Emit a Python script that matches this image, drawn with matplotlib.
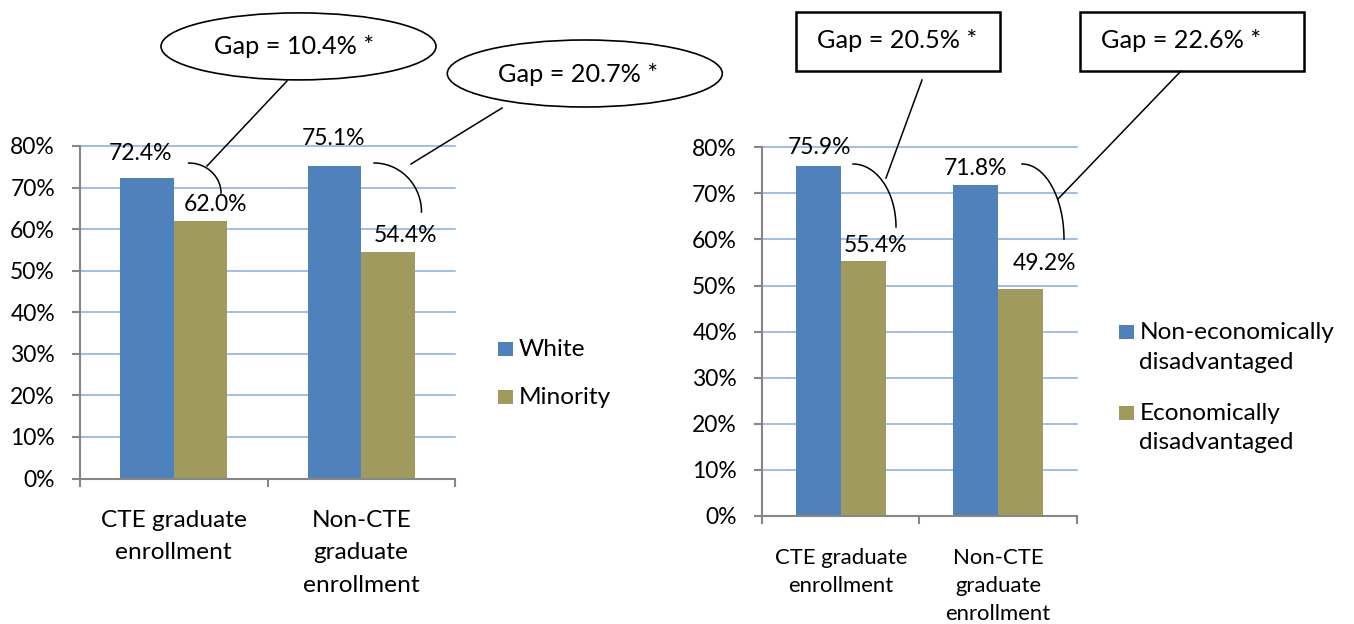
import numpy as np
import matplotlib.pyplot as plt
from matplotlib import patches, transforms

plt.rcParams['font.family'] = ['Lato', 'DejaVu Sans']

W, H = 1354, 624

# data
race_categories = ['CTE graduate\nenrollment', 'Non-CTE\ngraduate\nenrollment']
race_series = ['White', 'Minority']
white = [72.4, 75.1]
minority = [62.0, 54.4]
race_gaps = ['Gap = 10.4% *', 'Gap = 20.7% *']

econ_categories = ['CTE graduate\nenrollment', 'Non-CTE\ngraduate\nenrollment']
econ_series = ['Non-economically\ndisadvantaged', 'Economically\ndisadvantaged']
non_econ = [75.9, 71.8]
econ = [55.4, 49.2]
econ_gaps = ['Gap = 20.5% *', 'Gap = 22.6% *']

yticks = list(range(0, 81, 10))

BLUE = '#4F81BD'
OLIVE = '#A09A5C'
GRID = '#86AEDF'
AXIS = '#868686'
PX = 0.72  # pixels -> points at 100 dpi

fig = plt.figure(figsize=(W / 100, H / 100), dpi=100)
# pixel coordinates measured from the top-left corner
px = transforms.Affine2D().scale(1 / W, -1 / H).translate(0, 1) + fig.transFigure


def bar_panel(box, cats, s1, s2, cat_size, cat_ls, cat_pad, nudges):
    l, t, r, b = box
    ax = fig.add_axes([l / W, 1 - b / H, (r - l) / W, (b - t) / H])
    x = np.arange(len(cats))
    w = 1 / 3.5
    bars1 = ax.bar(x - w / 2, s1, w, color=BLUE, zorder=2)
    bars2 = ax.bar(x + w / 2, s2, w, color=OLIVE, zorder=2)
    ax.set_xlim(-0.5, len(cats) - 0.5)
    ax.set_ylim(0, 80)
    ax.set_yticks(yticks, [f'{v}%' for v in yticks])
    ax.yaxis.grid(True, color=GRID, lw=1.1)
    for g in ax.get_ygridlines():
        g.set_clip_on(False)
    ax.set_axisbelow(True)
    for s in ['top', 'right']:
        ax.spines[s].set_visible(False)
    for s in ['left', 'bottom']:
        ax.spines[s].set_color(AXIS)
        ax.spines[s].set_linewidth(1.5)
        ax.spines[s].set_zorder(3)
    ax.tick_params(axis='y', direction='out', length=8 * PX, width=1.5, color=AXIS,
                   pad=17 * PX, labelsize=16.5)
    ax.set_xticks(x, cats)
    ax.set_xticks(np.arange(len(cats) + 1) - 0.5, minor=True)
    ax.tick_params(axis='x', which='major', length=0, pad=cat_pad, labelsize=cat_size)
    ax.tick_params(axis='x', which='minor', direction='out', length=8 * PX, width=1.5, color=AXIS)
    for lab in ax.get_xticklabels():
        lab.set_linespacing(cat_ls)
    k = 0
    for bars, vals in ((bars1, s1), (bars2, s2)):
        for bar, v in zip(bars, vals):
            dx, dy = nudges[k]
            k += 1
            ax.annotate(f'{v:.1f}%', (bar.get_x() + bar.get_width() / 2, v),
                        xytext=(dx * PX, dy * PX), textcoords='offset points',
                        ha='center', va='center', fontsize=16.5, zorder=4)
    return ax


# left panel
bar_panel((80, 146, 455, 478.5), race_categories, white, minority, 17.6, 1.68, 22.5,
          [(-6, 24), (-1, 28), (15, 16), (17, 17)])
# right panel
bar_panel((762, 147.3, 1077, 516), econ_categories, non_econ, econ, 15.9, 1.5, 23,
          [(1, 19), (0, 17), (12, 15), (24, 26)])


def legend(x, entries):
    for (label, color, ysq, ytxt) in entries:
        fig.add_artist(patches.Rectangle((x, ysq - 7), 15, 14, transform=px,
                                         color=color, lw=0))
        fig.text(x + 21, ytxt, label, transform=px, ha='left', va='center',
                 fontsize=17.6, linespacing=1.5)


legend(498, [(race_series[0], BLUE, 349, 349), (race_series[1], OLIVE, 397, 397)])
legend(1118.5, [(econ_series[0], BLUE, 331.5, 347.5), (econ_series[1], OLIVE, 413, 428)])


def bracket(x0, y0, x1, y1):
    t = np.linspace(0, np.pi / 2, 40)
    xs = x0 + (x1 - x0) * np.sin(t)
    ys = y1 - (y1 - y0) * np.cos(t)
    fig.add_artist(plt.Line2D(xs, ys, transform=px, color='black', lw=1.1))


def pointer(x0, y0, x1, y1):
    fig.add_artist(plt.Line2D([x0, x1], [y0, y1], transform=px, color='black', lw=1.1))


# ellipse callouts (left)
for (cx, cy), (tx, ty), txt in zip([(298.5, 46.4), (584.8, 73.5)],
                                   [(294, 46), (578.5, 74)], race_gaps):
    fig.add_artist(patches.Ellipse((cx, cy), 275, 67, transform=px, fill=False,
                                   ec='black', lw=1.2))
    fig.text(tx, ty, txt, transform=px, ha='center', va='center', fontsize=18.2)
bracket(188.6, 163, 221, 193)
pointer(287, 81, 207, 166)
bracket(374, 163, 421.5, 212)
pointer(502, 108, 411, 164)

# rectangle callouts (right)
for (bx, by, bw, bh), txt in zip([(796, 12.3, 204, 58.4), (1080, 12, 224, 59)], econ_gaps):
    fig.add_artist(patches.Rectangle((bx, by), bw, bh, transform=px, fill=False,
                                     ec='black', lw=1.8))
    fig.text(bx + 21, 41, txt, transform=px, ha='left', va='center', fontsize=18.2)
bracket(853, 164, 896, 227)
pointer(922, 80, 886, 178)
bracket(1022, 164, 1064, 239)
pointer(1181, 71, 1058, 199)

fig.savefig('out.png', dpi=100)
